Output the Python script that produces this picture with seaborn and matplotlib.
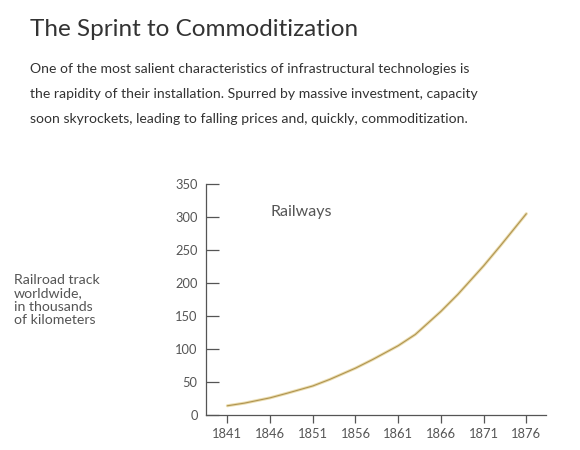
import matplotlib
matplotlib.use("Agg")
import matplotlib.pyplot as plt
import seaborn as sns
import pandas as pd

# ── data ────────────────────────────────────────────────
years = [1841, 1843, 1846, 1848, 1851, 1853, 1856, 1858,
         1861, 1863, 1866, 1868, 1871, 1873, 1876]
track_km = [14, 18, 26, 33, 44, 54, 71, 84,
            105, 122, 157, 183, 226, 257, 305]  # thousands of km
x_ticks = [1841, 1846, 1851, 1856, 1861, 1866, 1871, 1876]
y_ticks = [0, 50, 100, 150, 200, 250, 300, 350]

title = "The Sprint to Commoditization"
intro = ["One of the most salient characteristics of infrastructural technologies is",
         "the rapidity of their installation. Spurred by massive investment, capacity",
         "soon skyrockets, leading to falling prices and, quickly, commoditization."]
ylab = "Railroad track\nworldwide,\nin thousands\nof kilometers"

df = pd.DataFrame({"year": years, "km": track_km})

sns.set_theme(style="ticks")
plt.rcParams["font.family"] = ["Lato", "DejaVu Sans"]

TXT = "#333333"
GREY = "#555555"

fig = plt.figure(figsize=(5.8, 4.5), dpi=100)
fig.patch.set_facecolor("white")

fig.text(30 / 580, 1 - 36 / 450, title, fontsize=17.5, color=TXT, va="baseline")
for i, line in enumerate(intro):
    fig.text(30 / 580, 1 - (73 + 25 * i) / 450, line, fontsize=10.1,
             color=TXT, va="baseline")
fig.text(14 / 580, 1 - 274 / 450, ylab, fontsize=10.2, color=GREY,
         va="top", linespacing=1.14)

ax = fig.add_axes([206 / 580, 1 - 415 / 450, 340 / 580, 231 / 450])
sns.lineplot(data=df, x="year", y="km", ax=ax, color="#eadcae", lw=2.2)
sns.lineplot(data=df, x="year", y="km", ax=ax, color="#b09450", lw=0.8)

ax.set_xlim(1838.5, 1878.3)
ax.set_ylim(0, 350)
ax.set_xticks(x_ticks)
ax.set_yticks(y_ticks)
ax.set_xlabel("")
ax.set_ylabel("")
ax.tick_params(axis="y", direction="in", length=9, width=0.9, colors=GREY,
               labelsize=9.3, pad=6)
ax.tick_params(axis="x", direction="out", length=6, width=0.9, colors=GREY,
               labelsize=9.3, pad=3)
for lab in ax.get_xticklabels() + ax.get_yticklabels():
    lab.set_color(GREY)
sns.despine(ax=ax)
for s in ["left", "bottom"]:
    ax.spines[s].set_color(GREY)
    ax.spines[s].set_linewidth(0.9)

ax.text(1846.1, 307, "Railways", fontsize=11.5, color=GREY, va="center")

fig.savefig("out.png", dpi=100, facecolor="white")
plt.close(fig)
